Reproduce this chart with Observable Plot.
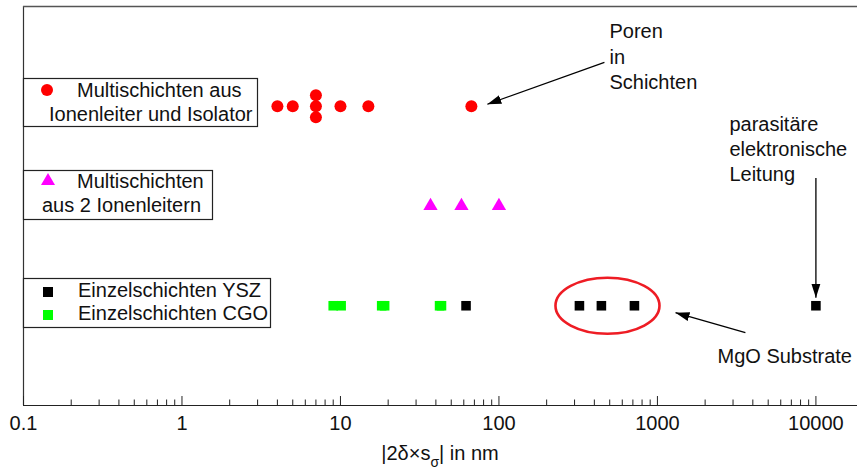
<!DOCTYPE html>
<html>
<head>
<meta charset="utf-8">
<script src="https://cdn.jsdelivr.net/npm/d3@7"></script>
<script src="https://cdn.jsdelivr.net/npm/@observablehq/plot@0.6"></script>
<style>
  html, body { margin: 0; padding: 0; background: #fff; }
  #chart { width: 859px; height: 473px; }
</style>
</head>
<body>
<div id="chart"></div>
<script>
// ---- data ----
const redX = [4, 5, 7, 7, 7, 10, 15, 67];
const redY = [3, 3, 3.11, 3, 2.89, 3, 3, 3];
const magentaX = [37, 58, 100];
const magentaY = [2, 2, 2];
const greenX = [9.0, 10.1, 18.2, 19.0, 42.2, 43.4];
const greenY = [1, 1, 1, 1, 1, 1];
const blackX = [62, 322, 443, 716, 10000];
const blackY = [1, 1, 1, 1, 1];

const majorTicks = [0.1, 1, 10, 100, 1000, 10000];
const minorTicks = [];
for (const dec of [0.1, 1, 10, 100, 1000]) for (let k = 2; k <= 9; k++) minorTicks.push(+(dec * k).toPrecision(3));

const legendRed = ["Multischichten aus", "Ionenleiter und Isolator"];
const legendMagenta = ["Multischichten", "aus 2 Ionenleitern"];
const legendYSZ = "Einzelschichten YSZ";
const legendCGO = "Einzelschichten CGO";

const notes = [
  {x: 498, y: 3.17, text: "Poren\nin\nSchichten"},
  {x: 2845, y: 2.246, text: "parasitäre\nelektronische\nLeitung"},
  {x: 2393, y: 0.431, text: "MgO Substrate"}
];
const arrows = [
  {x1: 463, y1: 3.44, x2: 84.5, y2: 3.02},
  {x1: 10000, y1: 2.28, x2: 10000, y2: 1.08},
  {x1: 3590, y1: 0.73, x2: 1300, y2: 0.93}
];
const ellipseCenter = [{x: 484, y: 1}];

const toRows = (xs, ys) => xs.map((x, i) => ({x, y: ys[i]}));

const ellipseSymbol = {
  draw(ctx) {
    const rx = 52, ry = 28, k = 0.5523, kx = k * rx, ky = k * ry;
    ctx.moveTo(rx, 0);
    ctx.bezierCurveTo(rx, ky, kx, ry, 0, ry);
    ctx.bezierCurveTo(-kx, ry, -rx, ky, -rx, 0);
    ctx.bezierCurveTo(-rx, -ky, -kx, -ry, 0, -ry);
    ctx.bezierCurveTo(kx, -ry, rx, -ky, rx, 0);
    ctx.closePath();
  }
};

const plot = Plot.plot({
  width: 859,
  height: 473,
  marginLeft: 23,
  marginRight: 2,
  marginTop: 6,
  marginBottom: 68,
  style: {fontFamily: "'Liberation Sans', Arial, sans-serif", fontSize: "20px", background: "#fff", overflow: "visible"},
  x: {type: "log", domain: [0.1, 18300]},
  y: {domain: [0, 4], axis: null},
  marks: [
    Plot.ruleX([0.1], {stroke: "#333", strokeWidth: 1.2}),
    Plot.ruleY([4], {stroke: "#555", strokeWidth: 1.5}),
    Plot.ruleY([0], {stroke: "#222", strokeWidth: 1.2}),
    Plot.ruleX(majorTicks, {y1: 0, y2: 0.09, stroke: "#222"}),
    Plot.ruleX(minorTicks, {y1: 0, y2: 0.055, stroke: "#222"}),
    Plot.axisX({ticks: majorTicks, tickSize: 0, tickPadding: 10, fontSize: 20, fill: "#111", tickFormat: d => String(d), label: null}),
    Plot.dot(ellipseCenter, {x: "x", y: "y", symbol: ellipseSymbol, r: 10, fill: "none", stroke: "#ee1c24", strokeWidth: 2.6}),
    Plot.link(arrows, {x1: "x1", y1: "y1", x2: "x2", y2: "y2", stroke: "#000", strokeWidth: 1.3, className: "annot-arrow"}),
    Plot.dot(toRows(redX, redY), {x: "x", y: "y", r: 6, fill: "#ff0000"}),
    Plot.dot(toRows(magentaX, magentaY), {x: "x", y: "y", symbol: "triangle", r: 5.3, fill: "#ff00ff"}),
    Plot.dot(toRows(greenX, greenY), {x: "x", y: "y", symbol: "square", r: 5.4, fill: "#00ff00"}),
    Plot.dot(toRows(blackX, blackY), {x: "x", y: "y", symbol: "square", r: 5.4, fill: "#000"}),
    Plot.text(notes, {x: "x", y: "y", text: "text", textAnchor: "start", lineAnchor: "bottom", lineHeight: 1.27, fontSize: 20, fill: "#111"})
  ]
});

document.getElementById("chart").appendChild(plot);

const svg = d3.select(plot);

// filled arrow heads
const defs = svg.append("defs");
defs.append("marker")
  .attr("id", "headFill")
  .attr("viewBox", "-14 -5 14 10")
  .attr("markerUnits", "userSpaceOnUse")
  .attr("markerWidth", 14)
  .attr("markerHeight", 10)
  .attr("refX", 0).attr("refY", 0)
  .attr("orient", "auto")
  .append("path")
  .attr("d", "M-14,-4.5L0,0L-14,4.5Z")
  .attr("fill", "#000");
svg.selectAll("g.annot-arrow path, .annot-arrow path").attr("marker-end", "url(#headFill)");

// axis title with subscript
const xs = plot.scale("x");
const cx = (xs.range[0] + xs.range[1]) / 2;
const title = svg.append("text")
  .attr("x", cx).attr("y", 460)
  .attr("text-anchor", "middle")
  .attr("font-size", 20)
  .attr("fill", "#111");
title.append("tspan").text("|2δ×s");
title.append("tspan").attr("dy", 7).attr("font-size", 14).text("σ");
title.append("tspan").attr("dy", -7).text("| in nm");

// legends
const lg = svg.append("g").attr("font-size", 20).attr("fill", "#111").attr("text-anchor", "start");
function box(x, y, w, h) {
  lg.append("rect").attr("x", x).attr("y", y).attr("width", w).attr("height", h)
    .attr("fill", "#fff").attr("stroke", "#222").attr("stroke-width", 1.2);
}
function txt(x, y, s) { lg.append("text").attr("x", x).attr("y", y).attr("text-anchor", "start").text(s); }
box(23.5, 78.5, 234, 48);
lg.append("circle").attr("cx", 47).attr("cy", 90).attr("r", 6).attr("fill", "#ff0000");
txt(77, 97, legendRed[0]);
txt(49, 121, legendRed[1]);

box(23.5, 170.5, 189, 49);
lg.append("path").attr("transform", "translate(48,181)").attr("d", d3.symbol(d3.symbolTriangle, 85)()).attr("fill", "#ff00ff");
txt(77, 188, legendMagenta[0]);
txt(42, 212, legendMagenta[1]);

box(23.5, 278.5, 247, 49);
lg.append("rect").attr("x", 43).attr("y", 287).attr("width", 10).attr("height", 10).attr("fill", "#000");
lg.append("rect").attr("x", 43).attr("y", 310).attr("width", 10).attr("height", 10).attr("fill", "#00ff00");
txt(78, 297, legendYSZ);
txt(78, 320, legendCGO);
</script>
</body>
</html>
